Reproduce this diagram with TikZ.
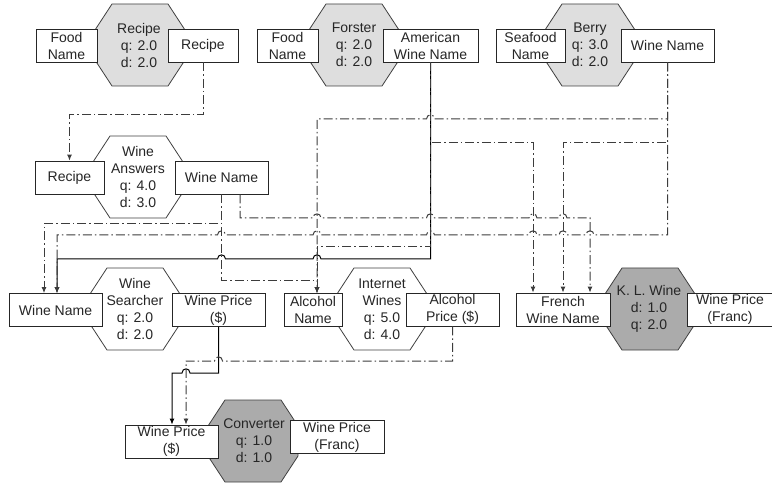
\documentclass[tikz,border=0pt]{standalone}
\usepackage{fontspec}
\setmainfont{Liberation Sans}
\usepackage{tikz}
\usetikzlibrary{arrows.meta}
\definecolor{lightoct}{HTML}{DEDEDE}
\definecolor{darkoct}{HTML}{ABABAB}
\definecolor{linkgray}{HTML}{3C3C3C}
% outline of an octagon, started from its centre
\newcommand{\octpath}{++(-28,-41) -- ++(56,0) -- ++(17,26) -- ++(0,30) -- ++(-17,26) -- ++(-56,0) -- ++(-17,-26) -- ++(0,-30) -- cycle}
% small bump where a line hops over another one
\newcommand{\hopr}[2]{-- (#1-4,#2) .. controls (#1-4,#2-5.5) and (#1+4,#2-5.5) .. (#1+4,#2)}
\newcommand{\hopl}[2]{-- (#1+4,#2) .. controls (#1+4,#2-5.5) and (#1-4,#2-5.5) .. (#1-4,#2)}
\begin{document}
\begin{tikzpicture}[x=1pt, y=-1pt, font=\fontsize{14}{17}\selectfont,
    octo/.style={draw=black!75, line width=.8pt},
    octtext/.style={align=center, inner sep=0pt, text=black!85},
    box/.style={draw=black!85, fill=white, minimum height=33pt, inner sep=1pt, align=center,
        line width=.8pt, text=black!85},
    link/.style={draw=linkgray, line width=1pt, dash pattern=on 9pt off 3pt on 1.5pt off 3pt,
        -{Latex[length=6pt,width=5pt]}},
    wire/.style={draw=black, line width=1pt, -{Latex[length=6pt,width=5pt]}}]
\useasboundingbox (0,0) rectangle (772,484);

\draw[octo, fill=lightoct] (140,45) \octpath;
\draw[octo, fill=lightoct] (354,45) \octpath;
\draw[octo, fill=lightoct] (590,45) \octpath;
\draw[octo, fill=white] (138,177) \octpath;
\draw[octo, fill=white] (135,309) \octpath;
\draw[octo, fill=white] (382,309) \octpath;
\draw[octo, fill=darkoct] (650,309) \octpath;
\draw[octo, fill=darkoct] (253,441) \octpath;

\node[octtext] (recipe) at (139,45) {Recipe\\q: 2.0\\d: 2.0};
\node[octtext] (forster) at (354,45) {Forster\\q: 2.0\\d: 2.0};
\node[octtext] (berry) at (590,45) {Berry\\q: 3.0\\d: 2.0};
\node[octtext] (answers) at (138,177) {Wine\\Answers\\q: 4.0\\d: 3.0};
\node[octtext] (searcher) at (135,309) {Wine\\Searcher\\q: 2.0\\d: 2.0};
\node[octtext] (internet) at (382,309) {Internet\\Wines\\q: 5.0\\d: 4.0};
\node[octtext] (klwine) at (649,309) {K. L. Wine\\d: 1.0\\q: 2.0};
\node[octtext] (converter) at (254,441) {Converter\\q: 1.0\\d: 1.0};

\node[box, minimum width=61pt] (rcpFood) at (66.5,45.5) {Food\\Name};
\node[box, minimum width=70pt] (rcpOut) at (203,45.5) {Recipe};
\node[box, minimum width=61pt] (fstFood) at (287.5,45.5) {Food\\Name};
\node[box, minimum width=95pt] (fstWine) at (430.5,45.5) {American\\Wine Name};
\node[box, minimum width=69pt] (berSea) at (530.5,45.5) {Seafood\\Name};
\node[box, minimum width=93pt] (berWine) at (667.5,45.5) {Wine Name};
\node[box, minimum width=69pt] (waRecipe) at (69.5,177.5) {Recipe};
\node[box, minimum width=93pt] (waWine) at (221.5,177.5) {Wine Name};
\node[box, minimum width=93pt] (wsName) at (55.5,310) {Wine Name};
\node[box, minimum width=93pt] (wsPrice) at (218.5,310) {Wine Price\\(\$)};
\node[box, minimum width=58pt] (iwName) at (313,310) {Alcohol\\Name};
\node[box, minimum width=93pt] (iwPrice) at (452.5,309.5) {Alcohol\\Price (\$)};
\node[box, minimum width=94pt] (frName) at (563,309.5) {French\\Wine Name};
\node[box, minimum width=86pt] (klPrice) at (730,309.5) {Wine Price\\(Franc)};
\node[box, minimum width=93pt] (cvIn) at (171.5,441.5) {Wine Price\\(\$)};
\node[box, minimum width=94pt] (cvOut) at (337,437) {Wine Price\\(Franc)};

% recipe to recipe
\draw[link] (rcpOut.south) -- (rcpOut.south |- 0,115) -| (waRecipe.north);
% american wine name
\draw[wire] (fstWine.south) -- (fstWine.south |- 0,259) \hopl{317}{259} \hopl{221.5}{259} -- (57,259) -- (wsName.north -| 57,0);
\draw[link] (fstWine.south) -- (fstWine.south |- 0,143) -- (533,143) -- (frName.north -| 533,0);
\draw[link] (fstWine.south) -- (fstWine.south |- 0,247) -- (317,247) -- (iwName.north -| 317,0);
% berry wine name
\draw[link] (berWine.south) -- (berWine.south |- 0,119) \hopl{430.5}{119} -- (317,119) -- (iwName.north -| 317,0);
\draw[link] (berWine.south) -- (berWine.south |- 0,143) -| (frName.north);
\draw[link] (berWine.south) -- (berWine.south |- 0,235) \hopl{590}{235} \hopl{563}{235} \hopl{533}{235} \hopl{430.5}{235} \hopl{317}{235} \hopl{221.5}{235} -- (57,235) -- (wsName.north -| 57,0);
% wine answers wine name
\draw[link] (waWine.south -| 240,0) -- (240,218) \hopr{317}{218} \hopr{430.5}{218} \hopr{533}{218} \hopr{563}{218} -- (590,218) -- (frName.north -| 590,0);
\draw[link] (waWine.south) -- (waWine.south |- 0,280) -- (317,280) -- (iwName.north -| 317,0);
\draw[link] (waWine.south) -- (waWine.south |- 0,224) -- (44,224) -- (wsName.north -| 44,0);
% prices to converter
\draw[wire] (wsPrice.south) -- (wsPrice.south |- 0,373) \hopl{186}{373} -- (172,373) -- (cvIn.north -| 172,0);
\draw[link] (iwPrice.south) -- (iwPrice.south |- 0,361) \hopl{218.5}{361} -- (186,361) -- (cvIn.north -| 186,0);
\end{tikzpicture}
\end{document}
